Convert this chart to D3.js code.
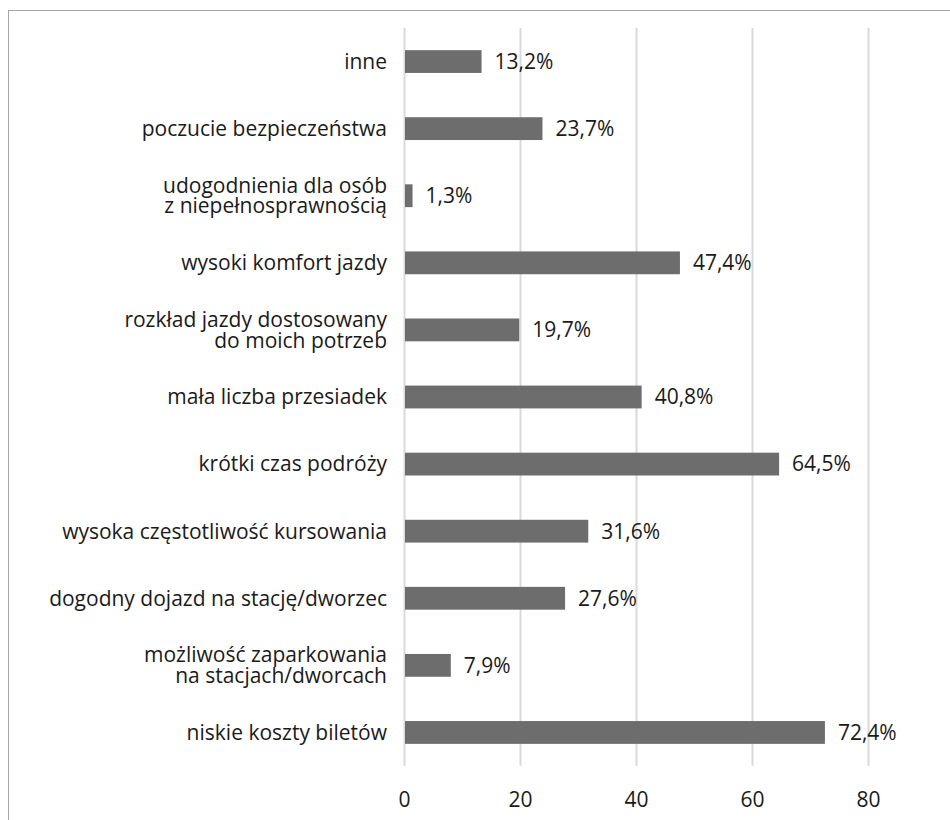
<!DOCTYPE html>
<html>
<head>
<meta charset="utf-8">
<script src="https://cdn.jsdelivr.net/npm/d3@7"></script>
<style>
  html, body { margin: 0; padding: 0; background: #fff; }
  svg { display: block; }
  text { font-family: "Open Sans", sans-serif; fill: #1a1a1a; }
</style>
</head>
<body>
<svg id="chart" width="950" height="820"></svg>
<script>
// Categories, top to bottom; "\n" splits a label over two lines
const categories = [
  "inne",
  "poczucie bezpieczeństwa",
  "udogodnienia dla osób\nz niepełnosprawnością",
  "wysoki komfort jazdy",
  "rozkład jazdy dostosowany\ndo moich potrzeb",
  "mała liczba przesiadek",
  "krótki czas podróży",
  "wysoka częstotliwość kursowania",
  "dogodny dojazd na stację/dworzec",
  "możliwość zaparkowania\nna stacjach/dworcach",
  "niskie koszty biletów"
];
const values = [13.2, 23.7, 1.3, 47.4, 19.7, 40.8, 64.5, 31.6, 27.6, 7.9, 72.4];
const xTicks = [0, 20, 40, 60, 80];

const svg = d3.select("#chart");
const fontSize = 21;

// Frame around the chart area
svg.append("rect")
  .attr("x", 8.5).attr("y", 10.5)
  .attr("width", 1000).attr("height", 900)
  .attr("fill", "none").attr("stroke", "#a6a6a6").attr("stroke-width", 1);

const plot = { left: 404, right: 868, top: 28, bottom: 766 };

const x = d3.scaleLinear().domain([0, 80]).range([plot.left, plot.right]);
const y = d3.scaleBand().domain(categories).range([plot.top, plot.bottom]).paddingInner(0.66).paddingOuter(0.33);

// Vertical gridlines
svg.append("g").selectAll("line").data(xTicks).join("line")
  .attr("x1", d => Math.round(x(d)) + 0.5).attr("x2", d => Math.round(x(d)) + 0.5)
  .attr("y1", plot.top).attr("y2", plot.bottom)
  .attr("stroke", "#d9d9d9").attr("stroke-width", 2);

// X axis tick labels
const xAxis = d3.axisBottom(x).tickValues(xTicks).tickSize(0).tickPadding(0).tickFormat(d3.format("d"));
const gx = svg.append("g").attr("transform", `translate(0,${plot.bottom + 26})`).call(xAxis);
gx.select(".domain").remove();
gx.selectAll("text").attr("font-size", fontSize).attr("font-family", null).attr("fill", "#1a1a1a");

// Bars
const rows = categories.map((c, i) => ({ c, v: values[i] }));
svg.append("g").selectAll("rect").data(rows).join("rect")
  .attr("x", x(0) + 1)
  .attr("y", d => y(d.c))
  .attr("width", d => x(d.v) - x(0))
  .attr("height", y.bandwidth())
  .attr("fill", "#6d6d6d");

// Value labels
svg.append("g").selectAll("text").data(rows).join("text")
  .attr("x", d => x(d.v) + 14)
  .attr("y", d => y(d.c) + y.bandwidth() / 2)
  .attr("dy", "0.35em")
  .attr("font-size", fontSize)
  .text(d => d3.format(".1f")(d.v).replace(".", ",") + "%");

// Category labels (right-aligned, multi-line where needed)
const lineH = 20.5;
const labels = svg.append("g").selectAll("text").data(rows).join("text")
  .attr("x", plot.left - 17)
  .attr("text-anchor", "end")
  .attr("font-size", fontSize);
labels.each(function (d) {
  const lines = d.c.split("\n");
  const cy = y(d.c) + y.bandwidth() / 2;
  const t = d3.select(this);
  lines.forEach((ln, k) => {
    t.append("tspan")
      .attr("x", plot.left - 17)
      .attr("y", cy + (k - (lines.length - 1) / 2) * lineH)
      .attr("dy", "0.35em")
      .text(ln);
  });
});
</script>
</body>
</html>
